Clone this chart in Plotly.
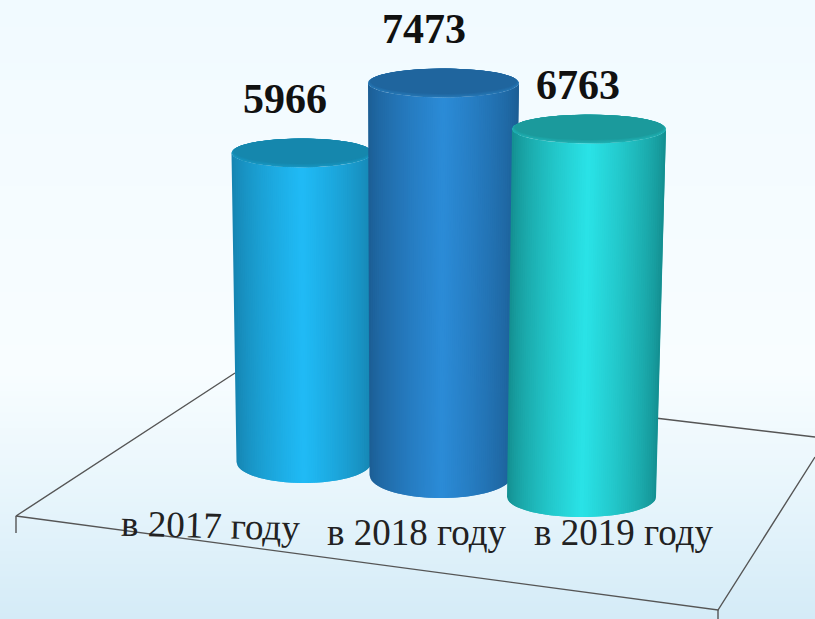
import numpy as np
import plotly.graph_objects as go

# --- chart data ---
categories = ["в 2017 году", "в 2018 году", "в 2019 году"]
values = [5966, 7473, 6763]

# --- drawing geometry (pseudo-3D scene in a 815x619 axis) ---
base_cx = [304.0, 441.0, 581.5]
base_cy = [462.0, 475.0, 497.0]
base_rx = [67.5, 71.5, 74.5]
top_cx = [302.0, 443.5, 589.0]
top_rx = [70.5, 75.5, 77.0]
ry_top = [14.5, 14.5, 14.5]
ry_base = [21.0, 23.0, 20.0]
px_per_unit = [0.0518, 0.05245, 0.0544]

edge_dark = ["#1582ae", "#1b5c92", "#138c8d"]
mid_bright = ["#20bbf6", "#2b8bd7", "#2ae3e7"]
cap_color = ["#1587ad", "#1f659e", "#1b9a9c"]
rim_color = ["#1795c0", "#2676b4", "#1fb0b2"]

label_x = [210, 416, 623]
label_y = [525, 532, 532]
label_angle = [1.5, 0, 0]
value_x = [285, 424, 578]
value_y = [99, 29, 85]

bg_stops = [[0.0, "#f1faff"], [0.6, "#f8fdff"], [0.78, "#e9f6fc"], [1.0, "#d4ebf7"]]
grid_color = "#555555"


def hex2rgb(h):
    return np.array([int(h[i:i + 2], 16) for i in (1, 3, 5)], float)


def mix(a, b, t):
    c = hex2rgb(a) * (1 - t) + hex2rgb(b) * t
    return "rgb(%d,%d,%d)" % tuple(c.round())


fig = go.Figure()

# background gradient
ys = np.linspace(0, 619, 70)
fig.add_trace(go.Heatmap(
    x=[0, 815], y=ys, z=[[v, v] for v in ys / 619],
    colorscale=bg_stops, showscale=False, zmin=0, zmax=1, hoverinfo="skip", zsmooth="best",
))


def segment(x, y, width=1.4):
    fig.add_trace(go.Scatter(x=x, y=y, mode="lines", hoverinfo="skip",
                             line=dict(color=grid_color, width=width)))


# floor outline
segment([235, 16, 718, 815], [373, 516, 610, 457])
segment([655, 815], [418, 437])
segment([16, 16], [516, 533])
segment([718, 718], [610, 619])

# cylinders
N = 72
for i, v in enumerate(values):
    ty = base_cy[i] - v * px_per_unit[i]
    edges = np.linspace(-1, 1, N + 1)
    for k in range(N):
        a, b = edges[k], edges[k + 2] if k + 2 <= N else 1.0
        u = np.linspace(a, b, 5)
        xt = top_cx[i] + top_rx[i] * u
        yt = ty + ry_top[i] * np.sqrt(np.clip(1 - u ** 2, 0, 1))
        xb = base_cx[i] + base_rx[i] * u
        yb = base_cy[i] + ry_base[i] * np.sqrt(np.clip(1 - u ** 2, 0, 1))
        s = (edges[k] + edges[k + 1]) / 2
        t = np.clip(1 - abs(s), 0, 1) ** 0.7
        fig.add_trace(go.Scatter(
            x=np.r_[xt, xb[::-1], xt[0]], y=np.r_[yt, yb[::-1], yt[0]],
            mode="lines", fill="toself", line=dict(width=0), hoverinfo="skip",
            fillcolor=mix(edge_dark[i], mid_bright[i], t),
        ))
    # top cap: nested ellipses fading from rim to cap colour
    th = np.linspace(0, 2 * np.pi, 90)
    for j, f in enumerate([1.0, 0.97, 0.94, 0.91, 0.88]):
        ry = ry_top[i] * f
        fig.add_trace(go.Scatter(
            x=top_cx[i] + top_rx[i] * f ** 0.25 * np.cos(th),
            y=ty - (ry_top[i] - ry) + ry * np.sin(th),
            mode="lines", fill="toself", line=dict(width=0), hoverinfo="skip",
            fillcolor=mix(rim_color[i], cap_color[i], j / 4),
        ))

annotations = []
for c, x, y, ang in zip(categories, label_x, label_y, label_angle):
    annotations.append(dict(x=x, y=y, text=c, showarrow=False, textangle=ang,
                            font=dict(family="Liberation Serif", size=37, color="#222222")))
for v, x, y in zip(values, value_x, value_y):
    annotations.append(dict(x=x, y=y, text=f"<b>{v}</b>", showarrow=False,
                            font=dict(family="Liberation Serif", size=42, color="#111111")))

fig.update_layout(
    width=815, height=619, margin=dict(l=0, r=0, t=0, b=0), showlegend=False,
    paper_bgcolor="#f1faff", plot_bgcolor="#f1faff", annotations=annotations,
    xaxis=dict(range=[0, 815], visible=False, fixedrange=True),
    yaxis=dict(range=[619, 0], visible=False, fixedrange=True),
)
fig.write_html("out.html", config={"displayModeBar": False},
               post_script="document.body.style.margin='0';document.documentElement.style.overflow='hidden';")
